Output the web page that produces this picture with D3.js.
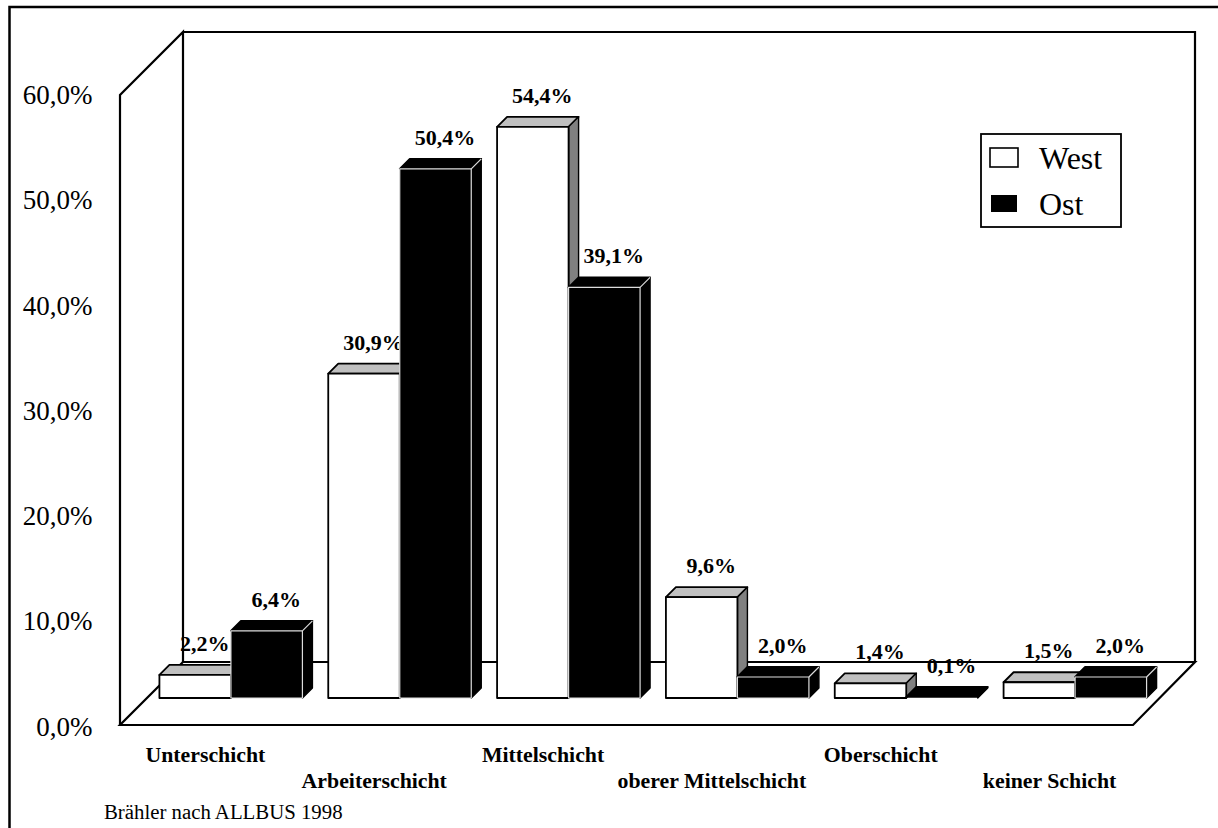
<!DOCTYPE html>
<html>
<head>
<meta charset="utf-8">
<script src="https://cdn.jsdelivr.net/npm/d3@7/dist/d3.min.js"></script>
<style>
html,body{margin:0;padding:0;background:#fff;overflow:hidden}
svg{display:block}
text{font-family:"Liberation Serif","Times New Roman",serif;fill:#000}
</style>
</head>
<body>
<svg id="chart" width="1218" height="828"></svg>
<script>
const categories = ["Unterschicht","Arbeiterschicht","Mittelschicht","oberer Mittelschicht","Oberschicht","keiner Schicht"];
const seriesNames = ["West","Ost"];
const westValues = [2.2,30.9,54.4,9.6,1.4,1.5];
const ostValues = [6.4,50.4,39.1,2.0,0.1,2.0];
const tickValues = [0,10,20,30,40,50,60];
const sourceNote = "Brähler nach ALLBUS 1998";

const fmt = v => v.toFixed(1).replace(".", ",") + "%";
const svg = d3.select("#chart");

// outer frame: top and left only
svg.append("path").attr("d","M1218,7H9.5V828").attr("fill","none").attr("stroke","#000").attr("stroke-width",2.5);

// scales
const wallDepth = 63, barZ = 27, barDepth = 10;
const left = 120, right = 1133, floorY = 725, topY = 95;
const y = d3.scaleLinear().domain([0,60]).range([floorY,topY]);
const yLabel = d3.scaleLinear().domain([0,60]).range([735,103.5]);
const x = d3.scaleBand().domain(categories).range([left+barZ,right+barZ]);
const xs = d3.scaleBand().domain(seriesNames).range([0,143]);
const groupX = c => x(c) + (x.bandwidth()-144)/2;

// walls
const wall = svg.append("g").attr("fill","none").attr("stroke","#000").attr("stroke-width",2.2);
wall.append("path").attr("d",`M${left},${floorY}V${y(60)}L${left+wallDepth},${y(60)-wallDepth}V${floorY-wallDepth}`);
wall.append("path").attr("d",`M${left+wallDepth},${y(60)-wallDepth}H${right+wallDepth-1}V${floorY-wallDepth}`);
wall.append("path").attr("d",`M${left+wallDepth},${floorY-wallDepth}H${right+wallDepth-1}L${right},${floorY}H${left}L${left+wallDepth},${floorY-wallDepth}`);

// y axis labels
const axis = d3.axisLeft(yLabel).tickValues(tickValues).tickSize(0).tickPadding(0).tickFormat(fmt);
const ag = svg.append("g").attr("transform","translate(92.5,0)").call(axis);
ag.select(".domain").remove();
ag.selectAll("text").attr("font-size",27).attr("dy",null).attr("y",0).style("font-family",'"Liberation Serif"');

// bars
const styles = {
  West:{front:"#fff",top:"#c0c0c0",side:"#808080",frontStroke:"#000",w:1.8},
  Ost:{front:"#000",top:"#000",side:"#000",frontStroke:"#ddd",w:1.2}
};
function drawBar(g,cat,name,v){
  const s = styles[name];
  const x0 = groupX(cat)+xs(name), x1 = x0+xs.bandwidth();
  const b = y(0)-barZ, t = y(v)-barZ, d = barDepth;
  const poly = (pts,fill,stroke,w)=>g.append("polygon").attr("points",pts.map(p=>p.join(",")).join(" "))
    .attr("fill",fill).attr("stroke",stroke).attr("stroke-width",w).attr("stroke-linejoin","round");
  poly([[x0,t],[x0+d,t-d],[x1+d,t-d],[x1,t]],s.top,"#000",1.8);
  poly([[x1,t],[x1+d,t-d],[x1+d,b-d],[x1,b]],s.side,"#000",1.4);
  if(v>=0.5) poly([[x0,t],[x1,t],[x1,b],[x0,b]],s.front,s.frontStroke,s.w);
  if(name==="Ost"&&v>=0.5){
    g.append("line").attr("x1",x1).attr("y1",t).attr("x2",x1+d).attr("y2",t-d).attr("stroke","#ddd").attr("stroke-width",1.2);
  }
  g.append("text").attr("x",(x0+x1)/2+9.5).attr("y",t-24).attr("text-anchor","middle")
    .attr("font-size",22).attr("font-weight","bold").text(fmt(v));
}
categories.forEach((c,i)=>{
  const g = svg.append("g");
  drawBar(g,c,"West",westValues[i]);
  drawBar(g,c,"Ost",ostValues[i]);
});

// category labels in two staggered rows
svg.append("g").selectAll("text").data(categories).join("text")
  .attr("x",c=>x(c)+x.bandwidth()/2-26)
  .attr("y",(c,i)=>i%2?788:762)
  .attr("text-anchor","middle").attr("font-size",21.8).attr("font-weight","bold").text(c=>c);

// source note
svg.append("text").attr("x",104).attr("y",819).attr("font-size",20.8).text(sourceNote);

// legend
const lg = svg.append("g");
lg.append("rect").attr("x",981).attr("y",134).attr("width",140).attr("height",93).attr("fill","#fff").attr("stroke","#000").attr("stroke-width",1.8);
seriesNames.forEach((n,i)=>{
  if(n==="West") lg.append("rect").attr("x",990).attr("y",148).attr("width",28).attr("height",19).attr("fill","#fff").attr("stroke","#000").attr("stroke-width",1.6);
  else lg.append("rect").attr("x",991).attr("y",195).attr("width",26).attr("height",17).attr("fill","#000");
  lg.append("text").attr("x",1039).attr("y",169+i*46).attr("font-size",32).text(n);
});
</script>
</body>
</html>
